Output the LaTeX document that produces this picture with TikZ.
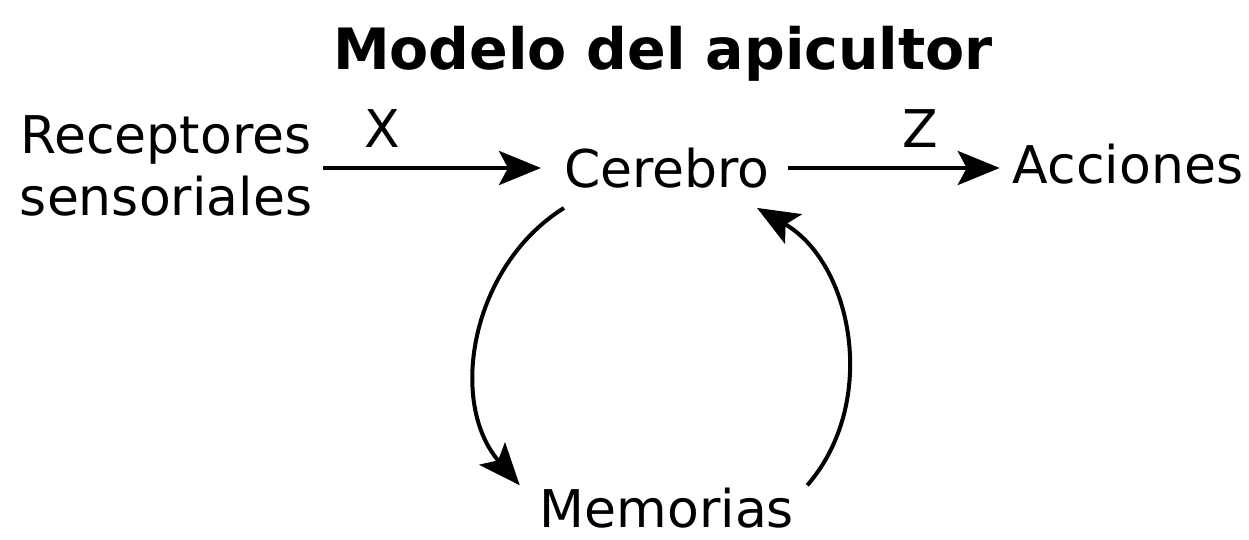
\documentclass[tikz,border=0pt]{standalone}
\usepackage{fontspec}
\setmainfont{DejaVu Sans}
\usetikzlibrary{arrows.meta,positioning}

\begin{document}
\begin{tikzpicture}[x=1pt,y=1pt,
  every node/.style={inner sep=0pt,font=\fontsize{52}{62}\selectfont},
  conn/.style={line width=4pt,-{Stealth[length=42pt,width=34pt,inset=9pt]}}]
\useasboundingbox (0,0) rectangle (1249,-540);
\node[font=\fontsize{57}{66}\selectfont\bfseries,anchor=base] (title) at (663,-70) {Modelo del apicultor};
\node[align=center] (receptores) at (166,-166) {Receptores\\sensoriales};
\node[anchor=base,inner ysep=20pt] (cerebro) at (667,-187) {Cerebro};
\node[anchor=base] (acciones) at (1128,-183) {Acciones};
\node[anchor=base] (memorias) at (667,-527) {Memorias};
\draw[conn,shorten <=11pt,shorten >=23pt] (receptores.east |- 0,-168) -- (cerebro.west |- 0,-168)
  node[pos=0.28,above=18pt] (lblx) {X};
\draw[conn,shorten <=18pt,shorten >=13pt] (cerebro.east |- 0,-168) -- (acciones.west |- 0,-168)
  node[pos=0.62,above=18pt] (lblz) {Z};
\draw[conn] (cerebro.south west) to[out=212,in=131] ([xshift=-20pt,yshift=2pt]memorias.north west);
\draw[conn] ([xshift=13pt,yshift=2pt]memorias.north east) to[out=49,in=330] ([xshift=-13pt]cerebro.south east);
\end{tikzpicture}
\end{document}
